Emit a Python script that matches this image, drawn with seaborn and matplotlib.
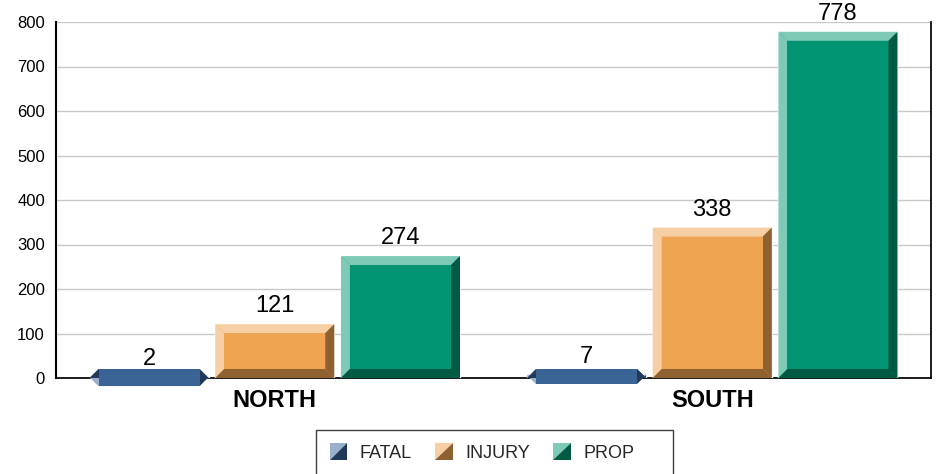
import matplotlib
matplotlib.use('Agg')
import matplotlib.pyplot as plt
from matplotlib.patches import Polygon, Rectangle
from matplotlib.legend_handler import HandlerBase
import pandas as pd
import seaborn as sns

# data
regions = ['NORTH', 'SOUTH']
series = ['FATAL', 'INJURY', 'PROP']
fatal = [2, 7]
injury = [121, 338]
prop = [274, 778]

# colours: face, light bevel, dark bevel
face_cols = ['#3A6496', '#EEA453', '#009472']
light_cols = ['#9AB0CC', '#F6CFA4', '#7FCAB6']
dark_cols = ['#223A5A', '#8F6030', '#005A44']

df = pd.DataFrame({
    'region': regions * 3,
    'type': [s for s in series for _ in regions],
    'count': fatal + injury + prop,
})

sns.set_theme(style='white')
plt.rcParams['font.family'] = ['Liberation Sans', 'DejaVu Sans']

W, H = 944, 474
fig = plt.figure(figsize=(W / 100, H / 100), dpi=100)
ax = fig.add_axes([56 / W, 1 - 378 / H, (931 - 56) / W, (378 - 22) / H])

sns.barplot(data=df, x='region', y='count', hue='type', palette=face_cols,
            width=0.862, gap=0.053, saturation=1, legend=False, ax=ax, zorder=3)

ax.set_xlim(-0.5, 1.5)
ax.set_ylim(0, 800)
ax.set_yticks(range(0, 801, 100))
ax.yaxis.grid(True, color='#C8C8C8', linewidth=1)
ax.set_axisbelow(True)
ax.set_xlabel('')
ax.set_ylabel('')
ax.tick_params(axis='y', length=0, pad=8, labelsize=12, colors='black')
ax.tick_params(axis='x', length=0, pad=8, labelsize=17, colors='black')
for t in ax.get_xticklabels():
    t.set_fontweight('bold')
ax.spines['top'].set_visible(False)
ax.spines['left'].set_linewidth(1.5)
for s in ['left', 'right', 'bottom']:
    ax.spines[s].set_color('black')
    ax.spines[s].set_zorder(2)

# bevel size ~9 px, converted to data units
bpx = 9
bx = bpx * 2 / (931 - 56)
by = bpx * 800 / (378 - 22)

for i, cont in enumerate(ax.containers):
    for bar in cont:
        x0 = bar.get_x()
        x1 = x0 + bar.get_width()
        h = bar.get_height()
        light = [
            [(x0, h), (x1, h), (x1 - bx, h - by), (x0 + bx, h - by)],
            [(x0, 0), (x0, h), (x0 + bx, h - by), (x0 + bx, by)],
        ]
        dark = [
            [(x0, 0), (x1, 0), (x1 - bx, by), (x0 + bx, by)],
            [(x1, 0), (x1, h), (x1 - bx, h - by), (x1 - bx, by)],
        ]
        for pts in light:
            ax.add_patch(Polygon(pts, closed=True, facecolor=light_cols[i],
                                 edgecolor='none', zorder=4, clip_on=False))
        for pts in dark:
            ax.add_patch(Polygon(pts, closed=True, facecolor=dark_cols[i],
                                 edgecolor='none', zorder=4, clip_on=False))
        ylo, yhi = sorted([by, h - by])
        ax.add_patch(Rectangle((x0 + bx, ylo), x1 - x0 - 2 * bx, yhi - ylo,
                               facecolor=face_cols[i], edgecolor='none',
                               zorder=5, clip_on=False))
        ax.annotate(f'{int(h)}', (x0 + (x1 - x0) / 2, h), xytext=(0, 5),
                    textcoords='offset points', ha='center', va='bottom',
                    fontsize=17, color='black', zorder=6)


# legend with diagonally split squares
class BevelKey:
    def __init__(self, light, dark):
        self.light = light
        self.dark = dark


class BevelHandler(HandlerBase):
    def create_artists(self, legend, orig_handle, xdescent, ydescent,
                       width, height, fontsize, trans):
        s = min(width, height) * 1.1
        x0 = -xdescent
        y0 = -ydescent + (height - s) / 2
        p1 = Polygon([(x0, y0), (x0, y0 + s), (x0 + s, y0 + s)], closed=True,
                     facecolor=orig_handle.light, edgecolor='none', transform=trans)
        p2 = Polygon([(x0, y0), (x0 + s, y0), (x0 + s, y0 + s)], closed=True,
                     facecolor=orig_handle.dark, edgecolor='none', transform=trans)
        return [p1, p2]


keys = [BevelKey(l, d) for l, d in zip(light_cols, dark_cols)]
leg = fig.legend(keys, series, handler_map={BevelKey: BevelHandler()},
                 loc='center left', bbox_to_anchor=(330 / W, 1 - 453 / H),
                 ncol=3, frameon=False, fontsize=13, handlelength=0.95,
                 handleheight=0.95, handletextpad=0.7, columnspacing=1.3,
                 borderpad=0, borderaxespad=0)

fig.patches.append(Rectangle((316 / W, 1 - 476 / H), (673 - 316) / W, 46 / H,
                             transform=fig.transFigure, facecolor='none',
                             edgecolor='#404040', linewidth=1, clip_on=False))

fig.savefig('out.png', dpi=100)
